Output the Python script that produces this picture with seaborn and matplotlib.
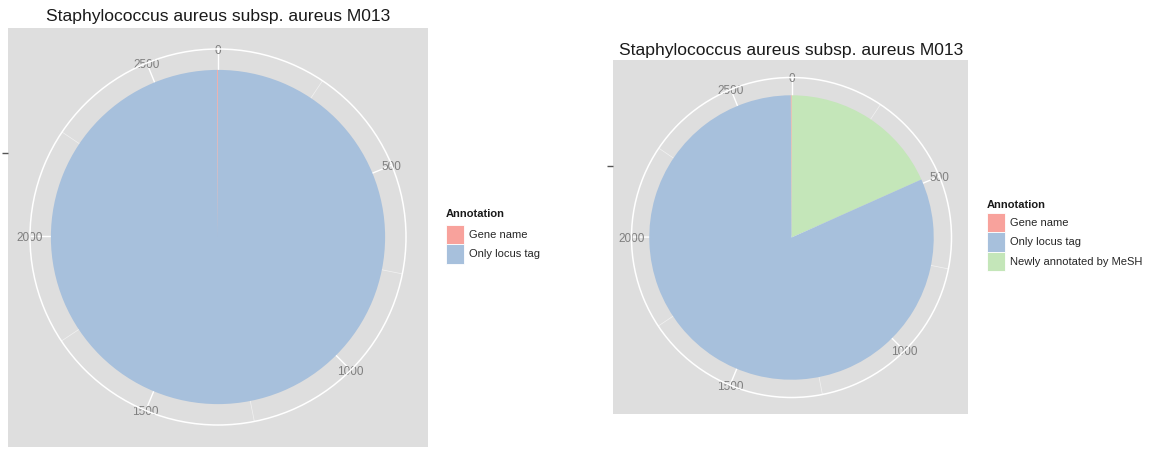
import numpy as np
import seaborn as sns
import matplotlib.pyplot as plt
from matplotlib.patches import Patch

# ---------- dados ----------
categorias = ["Gene name", "Only locus tag", "Newly annotated by MeSH"]
cores = ["#F8A29C", "#A7C0DC", "#C4E6B9"]
contagem_esq = [2, 2663]          # Gene name, Only locus tag
contagem_dir = [2, 2175, 488]     # Gene name, Only locus tag, Newly annotated by MeSH
ticks_maiores = [0, 500, 1000, 1500, 2000, 2500]
ticks_menores = [250, 750, 1250, 1750, 2250]
titulo = "Staphylococcus aureus subsp. aureus M013"

sns.set_theme(style="white")
plt.rcParams["font.family"] = ["Liberation Sans", "DejaVu Sans"]
paleta = sns.color_palette(cores)

W, H = 1161, 455
fig = plt.figure(figsize=(W / 100, H / 100), dpi=100)


def px_box(x0, y0, x1, y1):
    # caixa em pixels (origem no topo) -> coordenadas da figura
    return [x0 / W, (H - y1) / H, (x1 - x0) / W, (y1 - y0) / H]


def painel(bg, centro, raio, valores, n_leg, leg_tit_y, leg_xy, titulo_y):
    cx, cy = centro
    # fundo cinza + tick do eixo r
    ax_bg = fig.add_axes(px_box(*bg))
    ax_bg.set_facecolor("#DEDEDE")
    for s in ax_bg.spines.values():
        s.set_visible(False)
    escala = raio / 0.45
    ax_bg.set_xlim((bg[0] - cx) / escala, (bg[2] - cx) / escala)
    ax_bg.set_ylim((cy - bg[3]) / escala, (cy - bg[1]) / escala)
    ax_bg.set_xticks([])
    ax_bg.set_yticks([0.2])
    ax_bg.set_yticklabels([""])
    ax_bg.tick_params(axis="y", length=4, width=1, color="#555555", left=True)

    # pizza em coordenadas polares
    ax = fig.add_axes(px_box(cx - raio, cy - raio, cx + raio, cy + raio),
                      projection="polar")
    ax.set_facecolor("none")
    ax.set_theta_zero_location("N")
    ax.set_theta_direction(-1)
    total = sum(valores)
    fator = 2 * np.pi / total
    # ordem de empilhamento estilo ggplot: ultimo nivel comeca em 0
    inicio = 0
    for i in reversed(range(len(valores))):
        ax.bar(inicio * fator, 0.4, width=valores[i] * fator, bottom=0,
               align="edge", color=paleta[i], edgecolor="none", zorder=2)
        inicio += valores[i]
    ax.set_ylim(0, 0.45)
    ax.set_yticks([])
    ax.set_xticks([t * fator for t in ticks_maiores])
    ax.set_xticklabels([str(t) for t in ticks_maiores])
    ax.set_xticks([t * fator for t in ticks_menores], minor=True)
    ax.set_axisbelow(True)
    ax.xaxis.grid(True, which="major", color="white", lw=1.0)
    ax.xaxis.grid(True, which="minor", color="white", lw=0.5, alpha=0.6)
    ax.yaxis.grid(False)
    ax.tick_params(axis="x", which="both", length=0, pad=-7,
                   labelsize=8.5, labelcolor="#7F7F7F")
    for lab in ax.get_xticklabels():
        lab.set_va("center_baseline")
    ax.spines["polar"].set_color("white")
    ax.spines["polar"].set_linewidth(1.1)

    fig.text(cx / W, 1 - titulo_y / H, titulo, ha="center", va="center",
             fontsize=12.6, color="#1A1A1A")

    # legenda (titulo separado para controlar o espaçamento)
    fig.text(leg_xy[0] / W, 1 - leg_tit_y / H, "Annotation", ha="left",
             va="center", fontsize=8, fontweight="bold", color="#1A1A1A")
    handles = [Patch(facecolor=paleta[i], edgecolor="white", lw=0.6)
               for i in range(n_leg)]
    fig.legend(handles, categorias[:n_leg],
               loc="upper left", bbox_to_anchor=(leg_xy[0] / W, 1 - leg_xy[1] / H),
               frameon=False, fontsize=8,
               handlelength=1.6, handleheight=2.3, handletextpad=0.45,
               labelspacing=0.0, borderpad=0, borderaxespad=0)


painel((8, 28, 428, 447), (218, 237), 188, contagem_esq, 2, 214, (446, 225), 16)
painel((613, 60, 968, 414), (791.5, 237.5), 160, contagem_dir, 3, 205, (987, 213), 51)

plt.savefig("out.png", dpi=100)
